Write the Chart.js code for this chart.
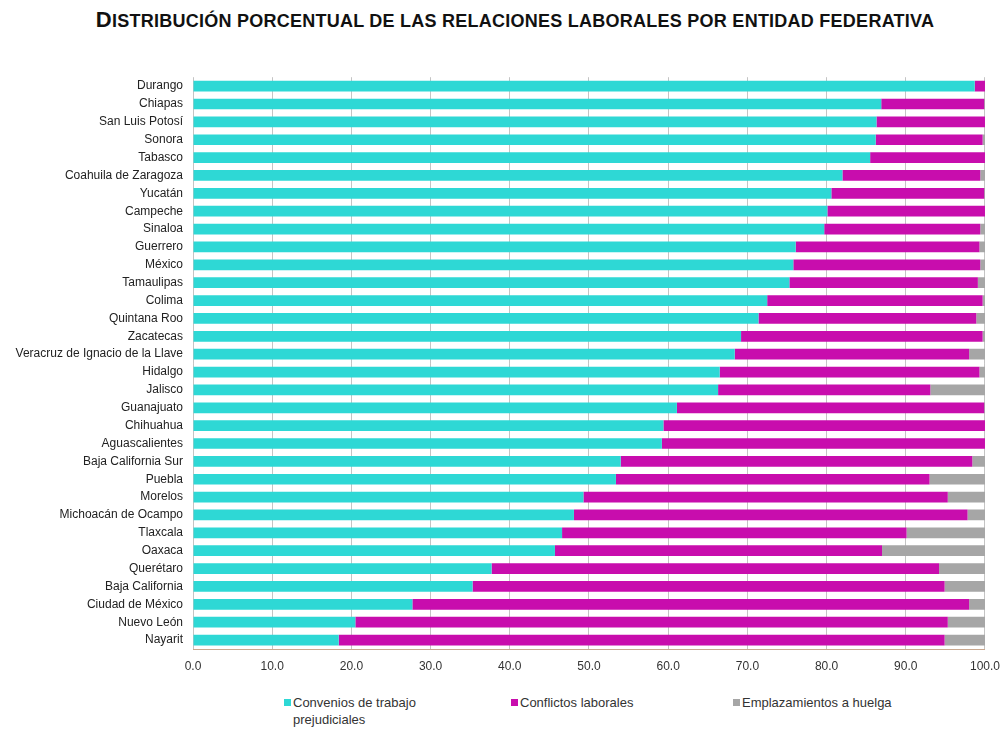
<!DOCTYPE html>
<html lang="es">
<head>
<meta charset="utf-8">
<script src="https://cdn.jsdelivr.net/npm/chart.js@4/dist/chart.umd.min.js"></script>
<style>
  body { margin: 0; background: #fff; font-family: "Liberation Sans", Arial, sans-serif; overflow: hidden; }
  #titulo {
    position: absolute; left: 0; top: 7px; width: 1030px; text-align: center;
    font-weight: bold; font-size: 18px; color: #111; letter-spacing: 0.25px;
  }
  #titulo b { font-size: 22px; }
  #caja { position: absolute; left: 0; top: 60px; width: 1010px; height: 620px; }
  .ley { position: absolute; top: 694px; font-size: 13px; color: #333; line-height: 17px; }
  .ley span { display: inline-block; width: 7px; height: 7px; margin-right: 2px; vertical-align: 1px; }
</style>
</head>
<body>
<div id="titulo"><b>D</b>ISTRIBUCIÓN PORCENTUAL DE LAS RELACIONES LABORALES POR ENTIDAD FEDERATIVA</div>
<div id="caja"><canvas id="grafica"></canvas></div>
<div class="ley" style="left:284px"><span style="background:#2ed8d5"></span>Convenios de trabajo<br><span style="visibility:hidden"></span>prejudiciales</div>
<div class="ley" style="left:511px"><span style="background:#c80dad"></span>Conflictos laborales</div>
<div class="ley" style="left:733px"><span style="background:#a6a6a6"></span>Emplazamientos a huelga</div>
<script>
const entidades = ["Durango", "Chiapas", "San Luis Potosí", "Sonora", "Tabasco", "Coahuila de Zaragoza",
  "Yucatán", "Campeche", "Sinaloa", "Guerrero", "México", "Tamaulipas", "Colima", "Quintana Roo",
  "Zacatecas", "Veracruz de Ignacio de la Llave", "Hidalgo", "Jalisco", "Guanajuato", "Chihuahua",
  "Aguascalientes", "Baja California Sur", "Puebla", "Morelos", "Michoacán de Ocampo", "Tlaxcala",
  "Oaxaca", "Querétaro", "Baja California", "Ciudad de México", "Nuevo León", "Nayarit"];

const convenios = [98.7, 86.9, 86.3, 86.2, 85.5, 82.0, 80.6, 80.1, 79.7, 76.1, 75.8, 75.3, 72.5, 71.4,
  69.2, 68.4, 66.5, 66.3, 61.1, 59.4, 59.2, 54.0, 53.4, 49.3, 48.1, 46.6, 45.7, 37.7, 35.3, 27.7, 20.5, 18.4];
const conflictos = [1.3, 13.0, 13.7, 13.5, 14.5, 17.4, 19.3, 19.9, 19.7, 23.2, 23.6, 23.8, 27.2, 27.5,
  30.5, 29.6, 32.8, 26.8, 38.8, 40.6, 40.8, 44.4, 39.6, 46.0, 49.7, 43.5, 41.3, 56.5, 59.6, 70.3, 74.8, 76.5];
const emplazamientos = [0, 0.1, 0, 0.3, 0, 0.6, 0.1, 0, 0.6, 0.7, 0.6, 0.9, 0.3, 1.1,
  0.3, 2.0, 0.7, 6.9, 0.1, 0, 0, 1.6, 7.0, 4.7, 2.2, 9.9, 13.0, 5.8, 5.1, 2.0, 4.7, 5.1];
const ticksX = [0, 10, 20, 30, 40, 50, 60, 70, 80, 90, 100];

const barra = { barPercentage: 0.6, categoryPercentage: 1, borderWidth: 0 };

new Chart("grafica", {
  type: "bar",
  data: {
    labels: entidades,
    datasets: [
      { label: "Convenios de trabajo prejudiciales", data: convenios, backgroundColor: "#2ed8d5", ...barra },
      { label: "Conflictos laborales", data: conflictos, backgroundColor: "#c80dad", ...barra },
      { label: "Emplazamientos a huelga", data: emplazamientos, backgroundColor: "#a6a6a6", ...barra },
    ],
  },
  options: {
    indexAxis: "y",
    responsive: true,
    maintainAspectRatio: false,
    animation: false,
    layout: { padding: { top: 6, right: 11, left: 0, bottom: 0 } },
    plugins: { legend: { display: false }, tooltip: { enabled: false } },
    scales: {
      x: {
        stacked: true,
        min: 0,
        max: 100,
        afterBuildTicks: (s) => { s.ticks = ticksX.map((v) => ({ value: v })); },
        afterFit: (s) => { s.height = 31; },
        ticks: { callback: (v) => Number(v).toFixed(1), color: "#333", font: { size: 12, family: "Liberation Sans" }, padding: 10, maxRotation: 0 },
        grid: { color: "#c4c4c4", drawTicks: false },
        border: { color: "#c9a88f", width: 1 },
      },
      y: {
        stacked: true,
        afterFit: (s) => { s.width = 193; },
        ticks: { color: "#222", font: { size: 12, family: "Liberation Sans" }, padding: 10, autoSkip: false },
        grid: { display: false, drawTicks: false, tickLength: 0 },
        border: { display: false },
      },
    },
  },
});
</script>
</body>
</html>
